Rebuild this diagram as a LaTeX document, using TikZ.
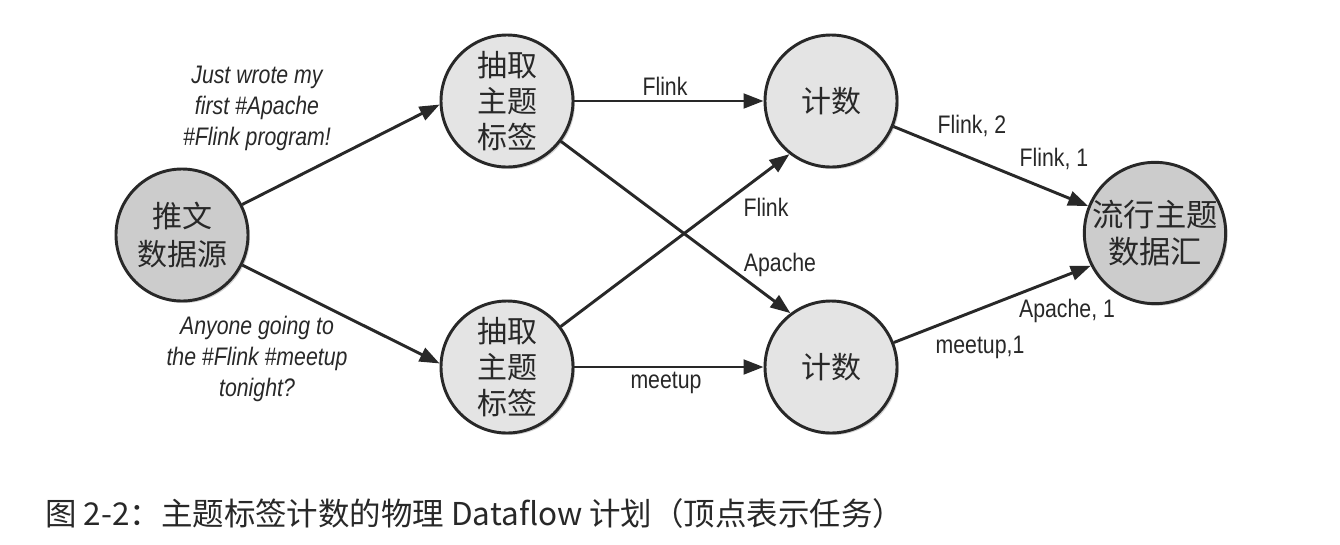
\documentclass[tikz,border=0pt]{standalone}
\usepackage{fontspec}
\newfontfamily\lab{Liberation Sans}[FakeStretch=0.84]
\newfontfamily\cjk{Noto Sans CJK SC}
\usetikzlibrary{arrows.meta,shadows}
\definecolor{ink}{RGB}{40,40,40}
\definecolor{lightfill}{RGB}{228,228,228}
\definecolor{darkfill}{RGB}{204,204,204}
\begin{document}
\begin{tikzpicture}[x=0.75pt,y=-0.75pt,
  task/.style={circle, draw=ink, line width=2.2pt, fill=lightfill, minimum size=99pt, inner sep=0pt,
    align=center, font=\cjk\fontsize{22.5}{27}\selectfont, text=ink,
    drop shadow={shadow xshift=1.5pt, shadow yshift=-1.5pt, opacity=0.18, fill=black}},
  endpt/.style={task, fill=darkfill},
  flow/.style={draw=ink, line width=2.2pt, -{Triangle[length=15pt,width=11pt]}},
  lbl/.style={font=\lab\fontsize{19}{22}\selectfont, text=ink, inner sep=0pt},
  tweet/.style={font=\lab\itshape\fontsize{19}{23.2}\selectfont, align=center, text=ink, inner sep=0pt}]
\useasboundingbox[fill=white] (0,0) rectangle (1340,544);

\node[endpt, font=\cjk\fontsize{22.5}{28.5}\selectfont] (src) at (182,235) {推文\\数据源};
\node[task] (ex1) at (507,101) {抽取\\主题\\标签};
\node[task] (ex2) at (507,367) {抽取\\主题\\标签};
\node[task] (c1) at (831,101) {计数};
\node[task] (c2) at (831,367) {计数};
\node[endpt, font=\cjk\fontsize{23.5}{28}\selectfont] (sink) at (1155,233) {流行主题\\数据汇};

\draw[flow] (src) -- (ex1.183);
\draw[flow] (src) -- (ex2.177);
\draw[flow] (ex1) -- (c1);
\draw[flow] (ex1) -- (c2.127);
\draw[flow] (ex2) -- (c1.232);
\draw[flow] (ex2) -- (c2);
\draw[flow] (c1) -- (sink.158);
\draw[flow] (c2) -- (sink.207);

\node[tweet] (t1) at (257,108) {Just wrote my\\first \#Apache\\\#Flink program!};
\node[tweet] (t2) at (257,359) {Anyone going to\\the \#Flink \#meetup\\tonight?};

\node[lbl] (l1) at (665,86) {Flink};
\node[lbl] (l2) at (766,207) {Flink};
\node[lbl] (l3) at (780,265) {Apache};
\node[lbl] (l4) at (666,383) {meetup};
\node[lbl] (l5) at (972,126) {Flink, 2};
\node[lbl] (l6) at (1054,159) {Flink, 1};
\node[lbl] (l7) at (1067,311) {Apache, 1};
\node[lbl] (l8) at (980,347) {meetup,1};

\node[anchor=west, inner sep=0pt, font=\cjk\fontsize{23.6}{28}\selectfont, text=ink] (cap) at (45,514)
  {图 2-2：主题标签计数的物理 Dataflow 计划（顶点表示任务）};
\end{tikzpicture}
\end{document}
